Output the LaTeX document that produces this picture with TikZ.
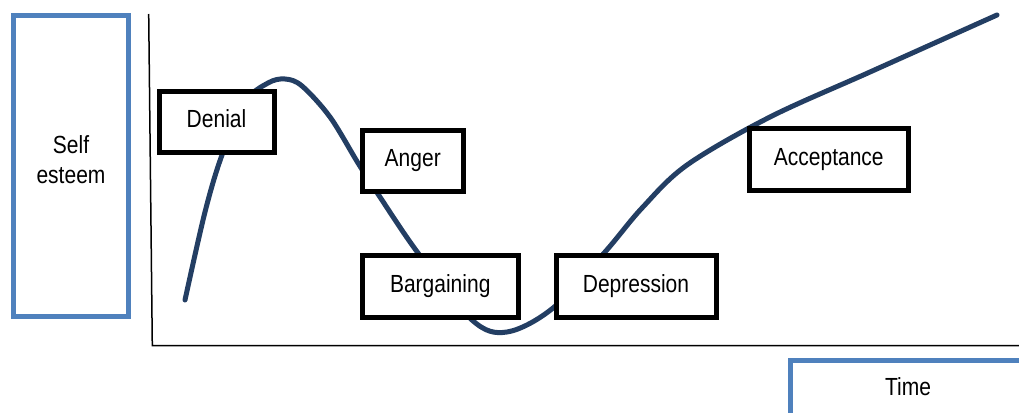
\documentclass[tikz,border=0pt]{standalone}
\usepackage{fontspec}
\setmainfont{Liberation Sans}
\definecolor{boxblue}{RGB}{79,129,189}
\definecolor{curvenavy}{RGB}{35,62,99}
\newcommand{\lbltext}[1]{\scalebox{1}[1.18]{#1}}
\begin{document}
\begin{tikzpicture}[x=1pt,y=-1pt,
  stagebox/.style={draw=black,line width=5pt,fill=white,inner sep=0pt,
    font=\fontsize{21}{26}\selectfont,text depth=5.5pt},
  bluebox/.style={draw=boxblue,line width=5pt,fill=white,inner sep=0pt},
  lbl/.style={inner sep=0pt,font=\fontsize{21}{26}\selectfont,align=center},
  axisline/.style={line width=1.5pt,draw=black},
  curveline/.style={line width=5pt,draw=curvenavy,line cap=round,line join=round}]
\useasboundingbox (0,0) rectangle (1019,412);
% axes
\coordinate (ytop) at (148.7,14);
\coordinate (origin) at (152.3,345.7);
\coordinate (xend) at (1019,345.7);
\draw[axisline] (ytop) -- (origin) -- (xend);
% curve
\draw[curveline] plot[smooth,tension=0.55] coordinates {
 (185,300) (205,212) (222,155) (245,102) (268,83) (285,79) (302,86)
 (330,117) (358,163) (378,194) (418,253) (472,320) (507,332) (553,308)
 (605,252) (642,208) (687,165) (770,117) (870,72) (997,15)};
% stage boxes
\node[stagebox,minimum width=115pt,minimum height=61pt] (denial) at (216.5,121.5) {\lbltext{Denial}};
\node[stagebox,minimum width=101.5pt,minimum height=61.5pt] (anger) at (412.75,160.75) {\lbltext{Anger}};
\node[stagebox,minimum width=156.5pt,minimum height=62.5pt] (bargaining) at (440.25,286.25) {\lbltext{Bargaining}};
\node[stagebox,minimum width=160pt,minimum height=61.5pt] (depression) at (636,286.25) {\lbltext{Depression}};
\node[stagebox,minimum width=159.5pt,minimum height=61.5pt] (acceptance) at (828.75,159.25) {\lbltext{Acceptance}};
% self esteem box
\node[bluebox,minimum width=115pt,minimum height=301pt] (selfbox) at (71,166) {};
\node[lbl] (selftxt) at (71,160) {\lbltext{Self}\\[4pt]\lbltext{esteem}};
% time box
\draw[draw=boxblue,line width=5pt,fill=white] (790,360) rectangle (1030,425);
\node[lbl] (timetxt) at (908,387) {\lbltext{Time}};
\end{tikzpicture}
\end{document}
